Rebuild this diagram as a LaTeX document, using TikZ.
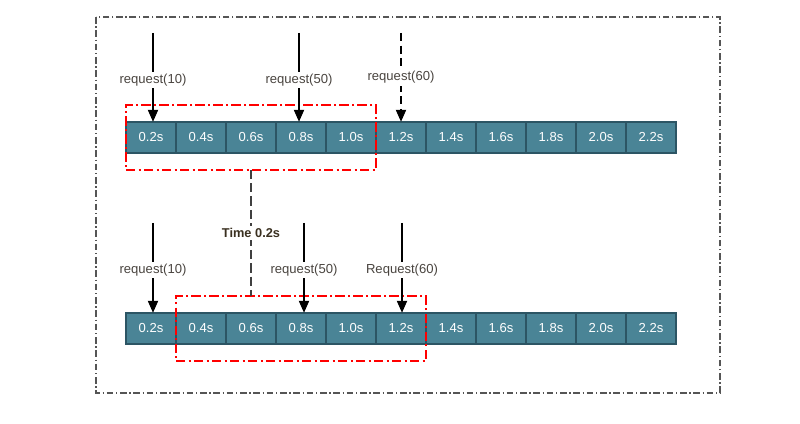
\documentclass[tikz,border=0pt]{standalone}
\usepackage{fontspec}
\setmainfont{Liberation Sans}
\usetikzlibrary{arrows.meta,positioning,fit}
\definecolor{slotfill}{HTML}{4A8496}
\definecolor{slotedge}{HTML}{2C5564}
\definecolor{labelgrey}{HTML}{4A4540}
\definecolor{timebrown}{HTML}{3A3020}
\definecolor{framegrey}{HTML}{555555}

\begin{document}
\begin{tikzpicture}[x=0.75pt,y=-0.75pt,inner sep=0pt,outer sep=0pt,
slot/.style={draw=slotedge,fill=slotfill,line width=1.1pt,minimum width=37.5pt,minimum height=23.5pt,text=white,font=\fontsize{9.8}{11}\selectfont},
req/.style={-{Triangle[width=7.5pt,length=9pt]},line width=1.5pt},
reqlabel/.style={fill=white,text=labelgrey,inner sep=1.5pt,font=\fontsize{9.8}{11}\selectfont},
window/.style={draw=red,line width=1.5pt,dash pattern=on 7pt off 2.5pt on 1.5pt off 2.5pt,inner xsep=0pt,inner ysep=12.5pt},
timelink/.style={draw=black!75,line width=2.2pt,dash pattern=on 7pt off 3pt},
frame/.style={draw=framegrey,line width=0.8pt,dash pattern=on 5pt off 2pt on 1pt off 2pt}]
\useasboundingbox (0,0) rectangle (800,424);
\draw[frame] (96,17) rectangle (720,393);

% time slots, before and after the shift
\foreach \i/\t in {1/0.2s,2/0.4s,3/0.6s,4/0.8s,5/1.0s,6/1.2s,7/1.4s,8/1.6s,9/1.8s,10/2.0s,11/2.2s} {
  \node[slot] (t\i) at ({151+50*(\i-1)},137.5) {\t};
  \node[slot] (b\i) at ({151+50*(\i-1)},328.5) {\t};
}

% sliding windows
\node[window,fit=(t1)(t5)] (win1) {};
\node[window,fit=(b2)(b6)] (win2) {};

% incoming requests
\coordinate (r10) at (153,33);
\coordinate (r50) at (299,33);
\coordinate (r60) at (401,33);
\draw[req] (r10) -- (r10 |- t1.north) node[pos=.53,reqlabel] {request(10)};
\draw[req] (r50) -- (r50 |- t4.north) node[pos=.53,reqlabel] {request(50)};
\draw[req,dash pattern=on 6pt off 3.5pt] (r60) -- (r60 |- t6.north) node[pos=.5,reqlabel] {request(60)};

\coordinate (s10) at (153,223);
\coordinate (s50) at (304,223);
\coordinate (s60) at (402,223);
\draw[req] (s10) -- (s10 |- b1.north) node[pos=.52,reqlabel] {request(10)};
\draw[req] (s50) -- (s50 |- b4.north) node[pos=.52,reqlabel] {request(50)};
\draw[req] (s60) -- (s60 |- b6.north) node[pos=.52,reqlabel] {Request(60)};

% window moves on
\draw[timelink] (win1.south) -- (win1.south |- win2.north)
  node[midway,fill=white,inner sep=1.5pt,text=timebrown,font=\bfseries\fontsize{9.6}{11}\selectfont] {Time 0.2s};
\end{tikzpicture}
\end{document}
